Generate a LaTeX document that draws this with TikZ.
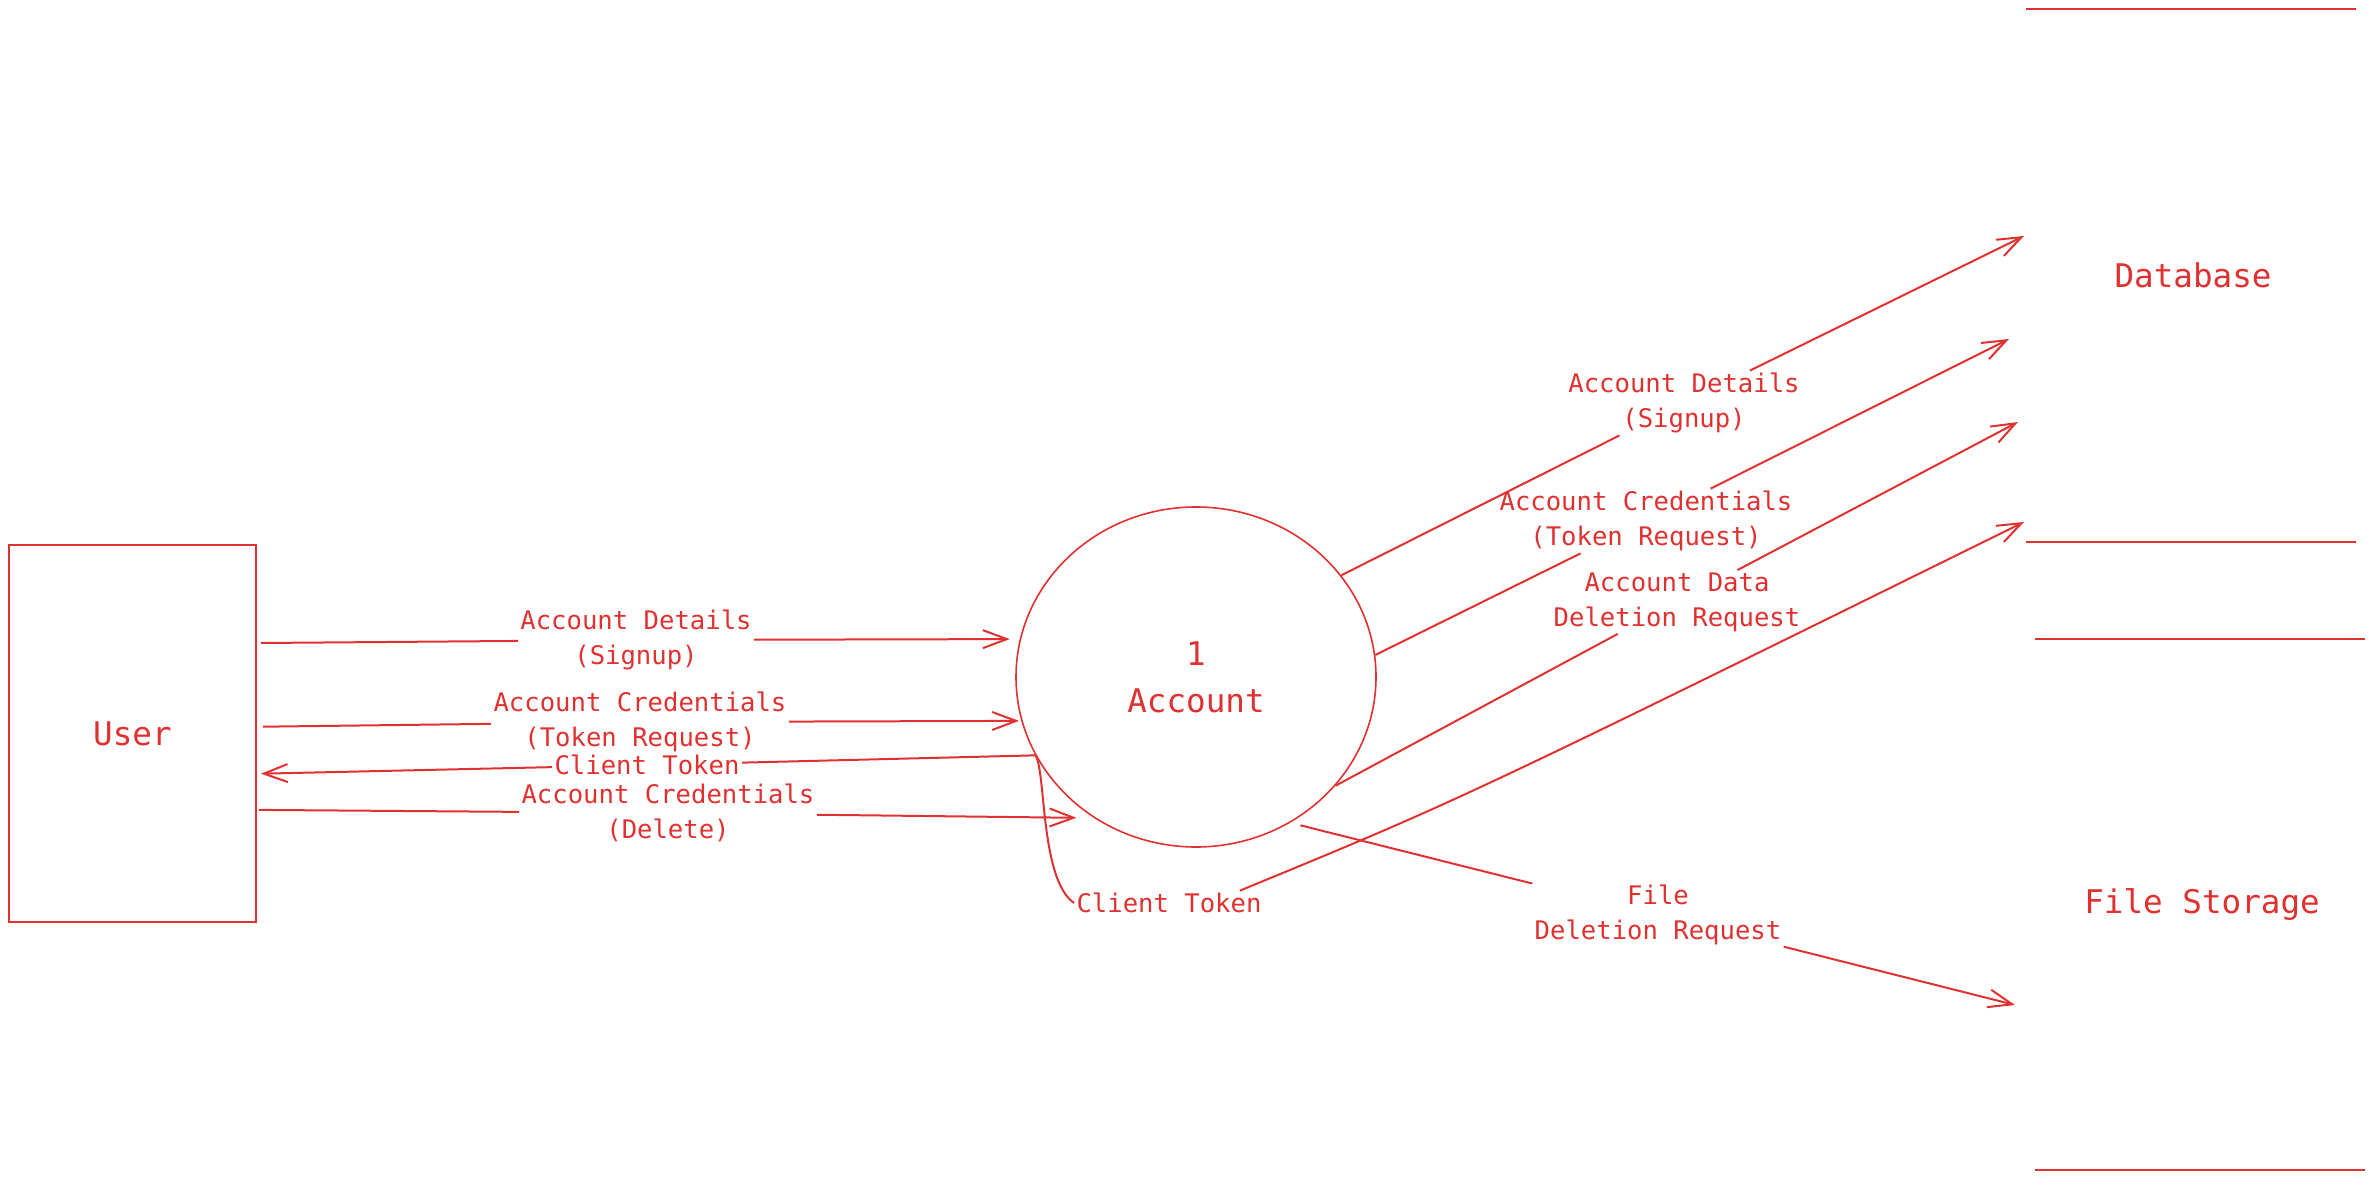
\documentclass[tikz,border=0pt]{standalone}
\usepackage{fontspec}
\setmonofont{DejaVu Sans Mono}
\usetikzlibrary{arrows.meta,shapes.geometric}
\definecolor{exred}{HTML}{E03131}
\begin{document}
\begin{tikzpicture}[x=0.5pt,y=-0.5pt,
  every node/.style={text=exred},
  lbl/.style={font=\ttfamily\fontsize{12.8}{17.5}\selectfont, align=center, inner sep=1pt},
  big/.style={font=\ttfamily\fontsize{16.3}{23.5}\selectfont, align=center},
  seg/.style={draw=exred, line width=1pt},
  flow/.style={draw=exred, line width=1pt, -{Straight Barb[length=12pt,width=9pt]}},
  store/.style={draw=exred, line width=1pt},
]
\useasboundingbox (0,0) rectangle (2374,1182);

% entities
\node[draw=exred, line width=0.9pt, minimum width=123.5pt, minimum height=188.5pt, inner sep=0, big] (user) at (132.5,733.5) {User};
\node[ellipse, draw=exred, line width=0.8pt, minimum width=180pt, minimum height=170pt, inner sep=0, big] (acc) at (1196,677) {1\\Account};
\node[big] (db) at (2193,275) {Database};
\node[big] (fs) at (2202,905) {File Storage};

% data store lines
\draw[store] (2026,9) -- (2356,9);
\draw[store] (2026,542) -- (2356,542);
\draw[store] (2035,639) -- (2365,639);
\draw[store] (2035,1170) -- (2365,1170);

% labels
\node[lbl] (l1) at (636,640) {Account Details\\(Signup)};
\node[lbl] (l2) at (640,722) {Account Credentials\\(Token Request)};
\node[lbl] (l3) at (647,765) {Client Token};
\node[lbl] (l4) at (668,813) {Account Credentials\\(Delete)};
\node[lbl] (l5) at (1684,403) {Account Details\\(Signup)};
\node[lbl] (l6) at (1646,521) {Account Credentials\\(Token Request)};
\node[lbl] (l7) at (1677,602) {Account Data\\Deletion Request};
\node[lbl] (l8) at (1169,903) {Client Token};
\node[lbl] (l9) at (1658,915) {File\\Deletion Request};

% free ends at the stores
\coordinate (d1) at (2024,236);
\coordinate (d2) at (2009,339);
\coordinate (d3) at (2018,422);
\coordinate (d4) at (2024,522);
\coordinate (f1) at (2015,1005);

% User <-> Account
\draw[seg] ([xshift=2pt,yshift=45.25pt]user.east) -- (l1);
\draw[flow] (l1) -- ([shift={(-186.3,-37.9)}]acc.center);
\draw[seg] ([xshift=3pt,yshift=3.4pt]user.east) -- (l2);
\draw[flow] (l2) -- ([shift={(-177,43.9)}]acc.center);
\draw[seg] (acc.206.8) -- (l3);
\draw[flow] (l3) -- ([xshift=2pt,yshift=-20.1pt]user.east);
\draw[seg] ([xshift=1pt,yshift=-38.2pt]user.east) -- (l4);
\draw[flow] (l4) -- ([shift={(-119.6,140.8)}]acc.center);

% Account -> Database
\draw[seg] (acc.35.8) -- (l5);
\draw[flow] (l5) -- (d1);
\draw[seg] (acc.7.75) -- (l6);
\draw[flow] (l6) -- (d2);
\draw[seg] (acc.-38.06) -- (l7);
\draw[flow] (l7) -- (d3);
\draw[seg] (acc.206.8) .. controls (1046,770) and (1040,880) .. (l8.west);
\draw[flow] ([xshift=-12pt]l8.north east) .. controls (1460,800) .. (d4);

% Account -> File Storage
\draw[seg] ([shift={(104.4,148.3)}]acc.center) -- (l9);
\draw[flow] (l9) -- (f1);
\end{tikzpicture}
\end{document}
